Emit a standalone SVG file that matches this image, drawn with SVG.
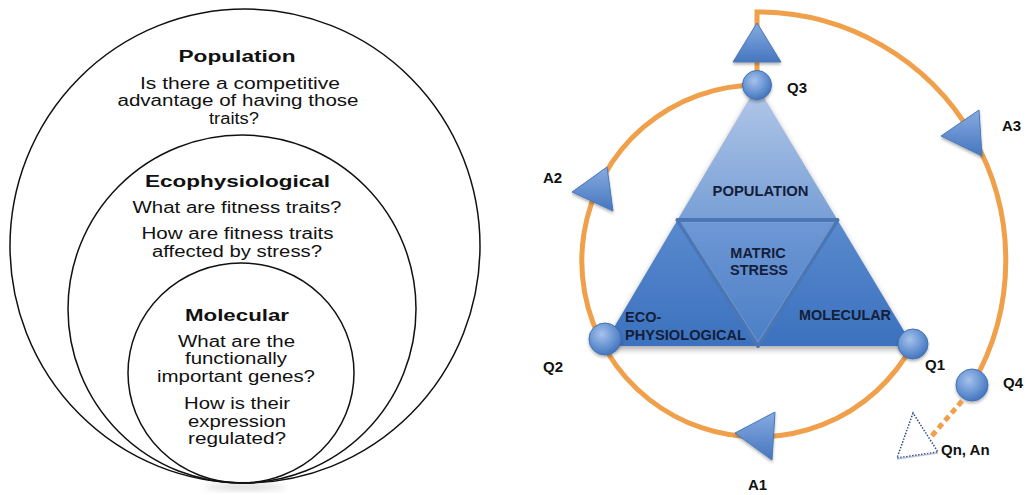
<svg xmlns="http://www.w3.org/2000/svg" width="1033" height="495" viewBox="0 0 1033 495">
  <defs>
    <style>
      .ring { fill: none; stroke: #111; stroke-width: 1.5; }
      .q { font-family: "Liberation Sans", Arial, sans-serif; font-size: 16px; fill: #111; text-anchor: middle; }
      .h { font-family: "Liberation Sans", Arial, sans-serif; font-size: 16px; font-weight: bold; fill: #111; text-anchor: middle; }
      .lvl { font-family: "Liberation Sans", Arial, sans-serif; font-size: 14.5px; font-weight: bold; fill: #14203a; }
      .lbl { font-family: "Liberation Sans", Arial, sans-serif; font-size: 15px; font-weight: bold; fill: #111; }
      .loop { fill: none; stroke: #f0a04b; stroke-width: 5; }
      .ball { fill: url(#ballGrad); stroke: #4470b0; stroke-width: 1; filter: url(#soft); }
      .head { fill: url(#headGrad); stroke: #4a78b8; stroke-width: 1; stroke-linejoin: round; filter: url(#soft); }
    </style>
    <linearGradient id="topGrad" gradientUnits="userSpaceOnUse" x1="0" y1="86" x2="0" y2="220">
      <stop offset="0" stop-color="#b3c8e8"/>
      <stop offset="1" stop-color="#789fd6"/>
    </linearGradient>
    <linearGradient id="lowGrad" gradientUnits="userSpaceOnUse" x1="0" y1="220" x2="0" y2="346">
      <stop offset="0" stop-color="#5a8ace"/>
      <stop offset="1" stop-color="#3b71be"/>
    </linearGradient>
    <linearGradient id="midGrad" gradientUnits="userSpaceOnUse" x1="0" y1="220" x2="0" y2="346">
      <stop offset="0" stop-color="#6f98d5"/>
      <stop offset="1" stop-color="#4b7ec6"/>
    </linearGradient>
    <radialGradient id="ballGrad" cx="0.4" cy="0.35" r="0.7">
      <stop offset="0" stop-color="#a6c2ea"/>
      <stop offset="0.6" stop-color="#6592d2"/>
      <stop offset="1" stop-color="#3f70b9"/>
    </radialGradient>
    <linearGradient id="headGrad" x1="0" y1="0" x2="0" y2="1">
      <stop offset="0" stop-color="#86abe0"/>
      <stop offset="1" stop-color="#4676bf"/>
    </linearGradient>
    <filter id="soft" x="-30%" y="-30%" width="160%" height="170%">
      <feDropShadow dx="0" dy="2" stdDeviation="1.5" flood-color="#000" flood-opacity="0.3"/>
    </filter>
    <filter id="blur" x="-20%" y="-50%" width="140%" height="200%">
      <feGaussianBlur stdDeviation="3"/>
    </filter>
  </defs>

  <rect width="1033" height="495" fill="#fff"/>

  <!-- nested levels, tangent at the bottom -->
  <ellipse cx="245" cy="487" rx="40" ry="3" fill="#888" opacity="0.35" filter="url(#blur)"/>
  <g id="level-population">
    <ellipse class="ring" cx="245" cy="246" rx="235" ry="237"/>
    <text class="h" x="237" y="62" textLength="117" lengthAdjust="spacingAndGlyphs">Population</text>
    <text class="q" x="240" y="88.5" textLength="200" lengthAdjust="spacingAndGlyphs">Is there a competitive</text>
    <text class="q" x="238" y="106" textLength="241" lengthAdjust="spacingAndGlyphs">advantage of having those</text>
    <text class="q" x="234" y="123.5" textLength="50" lengthAdjust="spacingAndGlyphs">traits?</text>
  </g>
  <g id="level-ecophysiological">
    <ellipse class="ring" cx="242" cy="309" rx="174" ry="174"/>
    <text class="h" x="237.5" y="187" textLength="185" lengthAdjust="spacingAndGlyphs">Ecophysiological</text>
    <text class="q" x="237" y="213" textLength="209" lengthAdjust="spacingAndGlyphs">What are fitness traits?</text>
    <text class="q" x="237.5" y="239" textLength="192" lengthAdjust="spacingAndGlyphs">How are fitness traits</text>
    <text class="q" x="237" y="256.5" textLength="170" lengthAdjust="spacingAndGlyphs">affected by stress?</text>
  </g>
  <g id="level-molecular">
    <ellipse class="ring" cx="241" cy="373" rx="113" ry="110"/>
    <text class="h" x="237" y="321" textLength="104" lengthAdjust="spacingAndGlyphs">Molecular</text>
    <text class="q" x="236.5" y="347" textLength="117" lengthAdjust="spacingAndGlyphs">What are the</text>
    <text class="q" x="236" y="364" textLength="102" lengthAdjust="spacingAndGlyphs">functionally</text>
    <text class="q" x="236" y="381.5" textLength="158" lengthAdjust="spacingAndGlyphs">important genes?</text>
    <text class="q" x="237" y="409" textLength="106" lengthAdjust="spacingAndGlyphs">How is their</text>
    <text class="q" x="237" y="426.5" textLength="98" lengthAdjust="spacingAndGlyphs">expression</text>
    <text class="q" x="237" y="444" textLength="98" lengthAdjust="spacingAndGlyphs">regulated?</text>
  </g>

  <!-- question / answer spiral -->
  <g id="connectors">
    <path class="loop" d="M 913 344 A 176 176 0 1 1 757 85"/>
    <path class="loop" d="M 757 85 L 757 12 A 248 248 0 0 1 972 385"/>
    <path class="loop" d="M 962 401 L 930 438" stroke-dasharray="6 4"/>
  </g>

  <!-- level triangle -->
  <g id="triangle">
    <polygon points="757,89 603,349 913,349" fill="#000" opacity="0.35" filter="url(#blur)"/>
    <polygon id="tri-population" points="757,86 677.5,220 837.5,220" fill="url(#topGrad)"/>
    <polygon id="tri-lower" points="677.5,220 837.5,220 913,346 603,346" fill="url(#lowGrad)"/>
    <polygon id="tri-matric" points="677.5,220 837.5,220 758,346" fill="url(#midGrad)" stroke="#4a76b4" stroke-width="4" stroke-linejoin="round"/>
    <polygon points="681,222.5 834,222.5 758,342" fill="none" stroke="#7ea2d8" stroke-width="1" opacity="0.7"/>
    <text class="lvl" x="760.5" y="196" text-anchor="middle" textLength="96" lengthAdjust="spacingAndGlyphs">POPULATION</text>
    <text class="lvl" x="758" y="258" text-anchor="middle">MATRIC</text>
    <text class="lvl" x="759" y="275" text-anchor="middle">STRESS</text>
    <text class="lvl" x="625" y="322">ECO-</text>
    <text class="lvl" x="625" y="339.5" textLength="121" lengthAdjust="spacingAndGlyphs">PHYSIOLOGICAL</text>
    <text class="lvl" x="799" y="320" textLength="92" lengthAdjust="spacingAndGlyphs">MOLECULAR</text>
  </g>

  <!-- questions -->
  <g id="Q1"><circle class="ball" cx="913" cy="344" r="15"/><text class="lbl" x="925" y="370">Q1</text></g>
  <g id="Q2"><circle class="ball" cx="605" cy="339" r="16"/><text class="lbl" x="543" y="372">Q2</text></g>
  <g id="Q3"><circle class="ball" cx="757" cy="85" r="14.5"/><text class="lbl" x="787" y="93">Q3</text></g>
  <g id="Q4"><circle class="ball" cx="972" cy="385" r="16"/><text class="lbl" x="1003" y="388">Q4</text></g>

  <!-- answers -->
  <g id="A1"><polygon class="head" points="735,433 775,412 772,460"/><text class="lbl" x="748" y="490">A1</text></g>
  <g id="A2"><polygon class="head" points="572,192 607,167 613,211"/><text class="lbl" x="543" y="183">A2</text></g>
  <g id="A3"><polygon class="head" points="941,136 979,110 982,156"/><text class="lbl" x="1002" y="131">A3</text></g>
  <g id="up-arrow"><polygon class="head" points="757,23 733,62 781,62"/></g>

  <!-- open-ended next step -->
  <g id="Qn">
    <polygon points="913,413 897,458 938,452" fill="none" stroke="#2f4c86" stroke-width="1.5" stroke-dasharray="1.5 1.5"/>
    <line x1="897" y1="459" x2="938" y2="453" stroke="#9aa6c0" stroke-width="1.5" opacity="0.6"/>
    <text class="lbl" x="941" y="455">Qn, An</text>
  </g>
</svg>
